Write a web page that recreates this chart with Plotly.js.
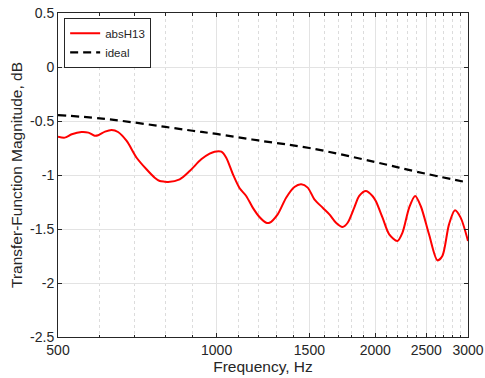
<!DOCTYPE html>
<html>
<head>
<meta charset="utf-8">
<script src="https://cdn.plot.ly/plotly-3.0.1.min.js"></script>
<style>html,body{margin:0;padding:0;background:#fff;}#chart{width:485px;height:378px;}</style>
</head>
<body>
<div id="chart"></div>
<script>
var measFreq = [500,515,531,554,571,587,596,614,632,650,675,705,736,763,780,797,809,851,889,935,970,991,1021,1043,1074,1106,1138,1171,1206,1242,1260,1306,1355,1405,1447,1489,1533,1590,1637,1685,1734,1773,1825,1865,1920,1976,2005,2065,2126,2204,2253,2320,2381,2440,2530,2624,2682,2761,2834,2905,3000];
var measMag = [-0.645,-0.654,-0.623,-0.602,-0.608,-0.636,-0.632,-0.599,-0.583,-0.602,-0.685,-0.840,-0.947,-1.025,-1.056,-1.062,-1.065,-1.040,-0.963,-0.855,-0.803,-0.784,-0.784,-0.840,-0.994,-1.123,-1.194,-1.302,-1.389,-1.442,-1.442,-1.364,-1.210,-1.111,-1.086,-1.117,-1.225,-1.303,-1.364,-1.442,-1.481,-1.442,-1.302,-1.194,-1.148,-1.194,-1.241,-1.395,-1.549,-1.611,-1.534,-1.302,-1.194,-1.287,-1.549,-1.790,-1.750,-1.457,-1.327,-1.395,-1.611];
var idealFreq = [500,600,700,800,900,1000,1200,1500,2000,2400,3000];
var idealMag = [-0.445,-0.475,-0.515,-0.555,-0.59,-0.62,-0.68,-0.75,-0.88,-0.97,-1.07];
var xTickVals = [500,1000,1500,2000,2500,3000];
var xTickText = ['500','1000','1500','2000','2500','3000'];
var xMinorVals = [600,700,800,900,1100,1200,1300,1400,1600,1700,1800,1900,2100,2200,2300,2400,2600,2700,2800,2900];
var yTickVals = [-2.5,-2,-1.5,-1,-0.5,0,0.5];
var yTickText = ['-2.5','-2','-1.5','-1','-0.5','0','0.5'];

var txt = '#262626';
var font = 'Liberation Sans, Arial, Helvetica, sans-serif';

var traces = [
  {x: measFreq, y: measMag, name: 'absH13', type: 'scatter', mode: 'lines',
   line: {color: '#ff0000', width: 2, shape: 'spline', smoothing: 0.8}},
  {x: idealFreq, y: idealMag, name: 'ideal', type: 'scatter', mode: 'lines',
   line: {color: '#000000', width: 2.2, dash: '8px,5px', shape: 'spline'}}
];

var layout = {
  width: 485, height: 378,
  margin: {l: 58, r: 17, t: 13, b: 41},
  paper_bgcolor: '#ffffff', plot_bgcolor: '#ffffff',
  font: {family: font, color: txt, size: 14},
  showlegend: true,
  legend: {x: 0.015, y: 0.985, xanchor: 'left', yanchor: 'top',
    bgcolor: '#ffffff', bordercolor: txt, borderwidth: 1,
    font: {family: font, size: 11.5, color: txt}, itemwidth: 30,
    tracegroupgap: 0},
  xaxis: {
    type: 'log', range: [Math.log10(500), Math.log10(3000)],
    tickmode: 'array', tickvals: xTickVals, ticktext: xTickText,
    ticks: 'inside', ticklen: 4, tickcolor: txt, tickwidth: 1,
    showline: true, linecolor: txt, linewidth: 1, mirror: 'ticks',
    showgrid: true, gridcolor: '#e3e3e3', gridwidth: 1,
    zeroline: false,
    tickfont: {family: font, size: 14, color: txt},
    minor: {tickmode: 'array', tickvals: xMinorVals, ticks: 'inside', ticklen: 2.5,
      tickcolor: txt, showgrid: true, gridcolor: '#dcdcdc', griddash: 'dot', gridwidth: 1},
    title: {text: 'Frequency, Hz', font: {family: font, size: 15.5, color: txt}, standoff: 4}
  },
  yaxis: {
    range: [-2.5, 0.5],
    tickmode: 'array', tickvals: yTickVals, ticktext: yTickText,
    ticks: 'inside', ticklen: 4, tickcolor: txt, tickwidth: 1,
    showline: true, linecolor: txt, linewidth: 1, mirror: 'ticks',
    showgrid: true, gridcolor: '#e3e3e3', gridwidth: 1,
    zeroline: false,
    tickfont: {family: font, size: 14, color: txt},
    title: {text: 'Transfer-Function Magnitude, dB', font: {family: font, size: 15.5, color: txt}, standoff: 3}
  }
};

Plotly.newPlot('chart', traces, layout, {displayModeBar: false, staticPlot: true});
</script>
</body>
</html>
